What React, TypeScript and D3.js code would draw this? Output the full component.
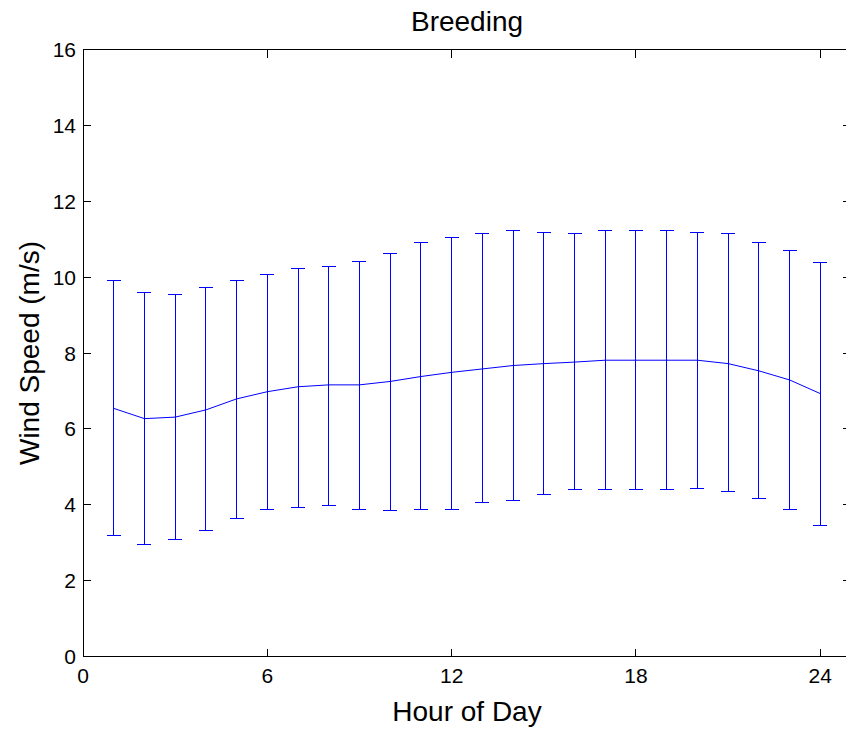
import React from "react";
import * as d3 from "d3";

const hours = [1,2,3,4,5,6,7,8,9,10,11,12,13,14,15,16,17,18,19,20,21,22,23,24];
const meanSpeed = [6.54,6.27,6.31,6.50,6.79,6.98,7.11,7.16,7.16,7.25,7.38,7.49,7.58,7.67,7.72,7.76,7.81,7.81,7.81,7.81,7.72,7.53,7.29,6.93];
const upperSpeed = [9.92,9.59,9.55,9.73,9.92,10.06,10.24,10.29,10.40,10.63,10.91,11.04,11.14,11.22,11.18,11.14,11.22,11.22,11.22,11.18,11.14,10.91,10.71,10.39];
const lowerSpeed = [3.18,2.95,3.08,3.32,3.65,3.88,3.93,3.97,3.88,3.84,3.88,3.88,4.07,4.12,4.26,4.40,4.40,4.40,4.40,4.44,4.34,4.17,3.88,3.46];
const xTicks = [0,6,12,18,24];
const yTicks = [0,2,4,6,8,10,12,14,16];

export default function App() {
  const W = 846, H = 731;
  const left = 83, right = 851, top = 49.5, bottom = 656.5;
  const x = d3.scaleLinear().domain([0, 25]).range([left, right]);
  const y = d3.scaleLinear().domain([0, 16]).range([bottom, top]);
  const line = d3.line<number>().x((_, i) => x(hours[i])).y((d) => y(d));
  const cap = 7;
  const tl = 8;
  const font = "Liberation Sans, Arial, sans-serif";
  const blue = "#0000ff";
  return (
    <svg width={W} height={H} style={{ position: "fixed", left: 0, top: 0, background: "#fff" }} fontFamily={font}>
      <rect x={0} y={0} width={W} height={H} fill="#fff" />
      {hours.map((h, i) => (
        <g key={h} stroke={blue} strokeWidth={1} shapeRendering="crispEdges">
          <line x1={x(h)} x2={x(h)} y1={y(upperSpeed[i])} y2={y(lowerSpeed[i])} />
          <line x1={x(h) - cap} x2={x(h) + cap} y1={y(upperSpeed[i])} y2={y(upperSpeed[i])} />
          <line x1={x(h) - cap} x2={x(h) + cap} y1={y(lowerSpeed[i])} y2={y(lowerSpeed[i])} />
        </g>
      ))}
      <path d={line(meanSpeed) || ""} fill="none" stroke={blue} strokeWidth={1} />
      <rect x={left} y={top} width={right - left} height={bottom - top} fill="none" stroke="#000" strokeWidth={1} shapeRendering="crispEdges" />
      {xTicks.map((t) => (
        <g key={"x" + t} shapeRendering="crispEdges">
          <line x1={x(t)} x2={x(t)} y1={bottom} y2={bottom - tl} stroke="#000" />
          <line x1={x(t)} x2={x(t)} y1={top} y2={top + tl} stroke="#000" />
          <text x={x(t)} y={683} textAnchor="middle" fontSize={21} fill="#000">{t}</text>
        </g>
      ))}
      {yTicks.map((t) => (
        <g key={"y" + t} shapeRendering="crispEdges">
          <line x1={left} x2={left + tl} y1={y(t)} y2={y(t)} stroke="#000" />
          <line x1={right} x2={right - tl} y1={y(t)} y2={y(t)} stroke="#000" />
          <text x={76} y={y(t)} dy="0.36em" textAnchor="end" fontSize={21} fill="#000">{t}</text>
        </g>
      ))}
      <text x={(left + right) / 2} y={31} textAnchor="middle" fontSize={28} fill="#000">Breeding</text>
      <text x={(left + right) / 2} y={721} textAnchor="middle" fontSize={28} fill="#000">Hour of Day</text>
      <text transform={`translate(39, ${(top + bottom) / 2}) rotate(-90)`} textAnchor="middle" fontSize={28} fill="#000">Wind Speed (m/s)</text>
    </svg>
  );
}
